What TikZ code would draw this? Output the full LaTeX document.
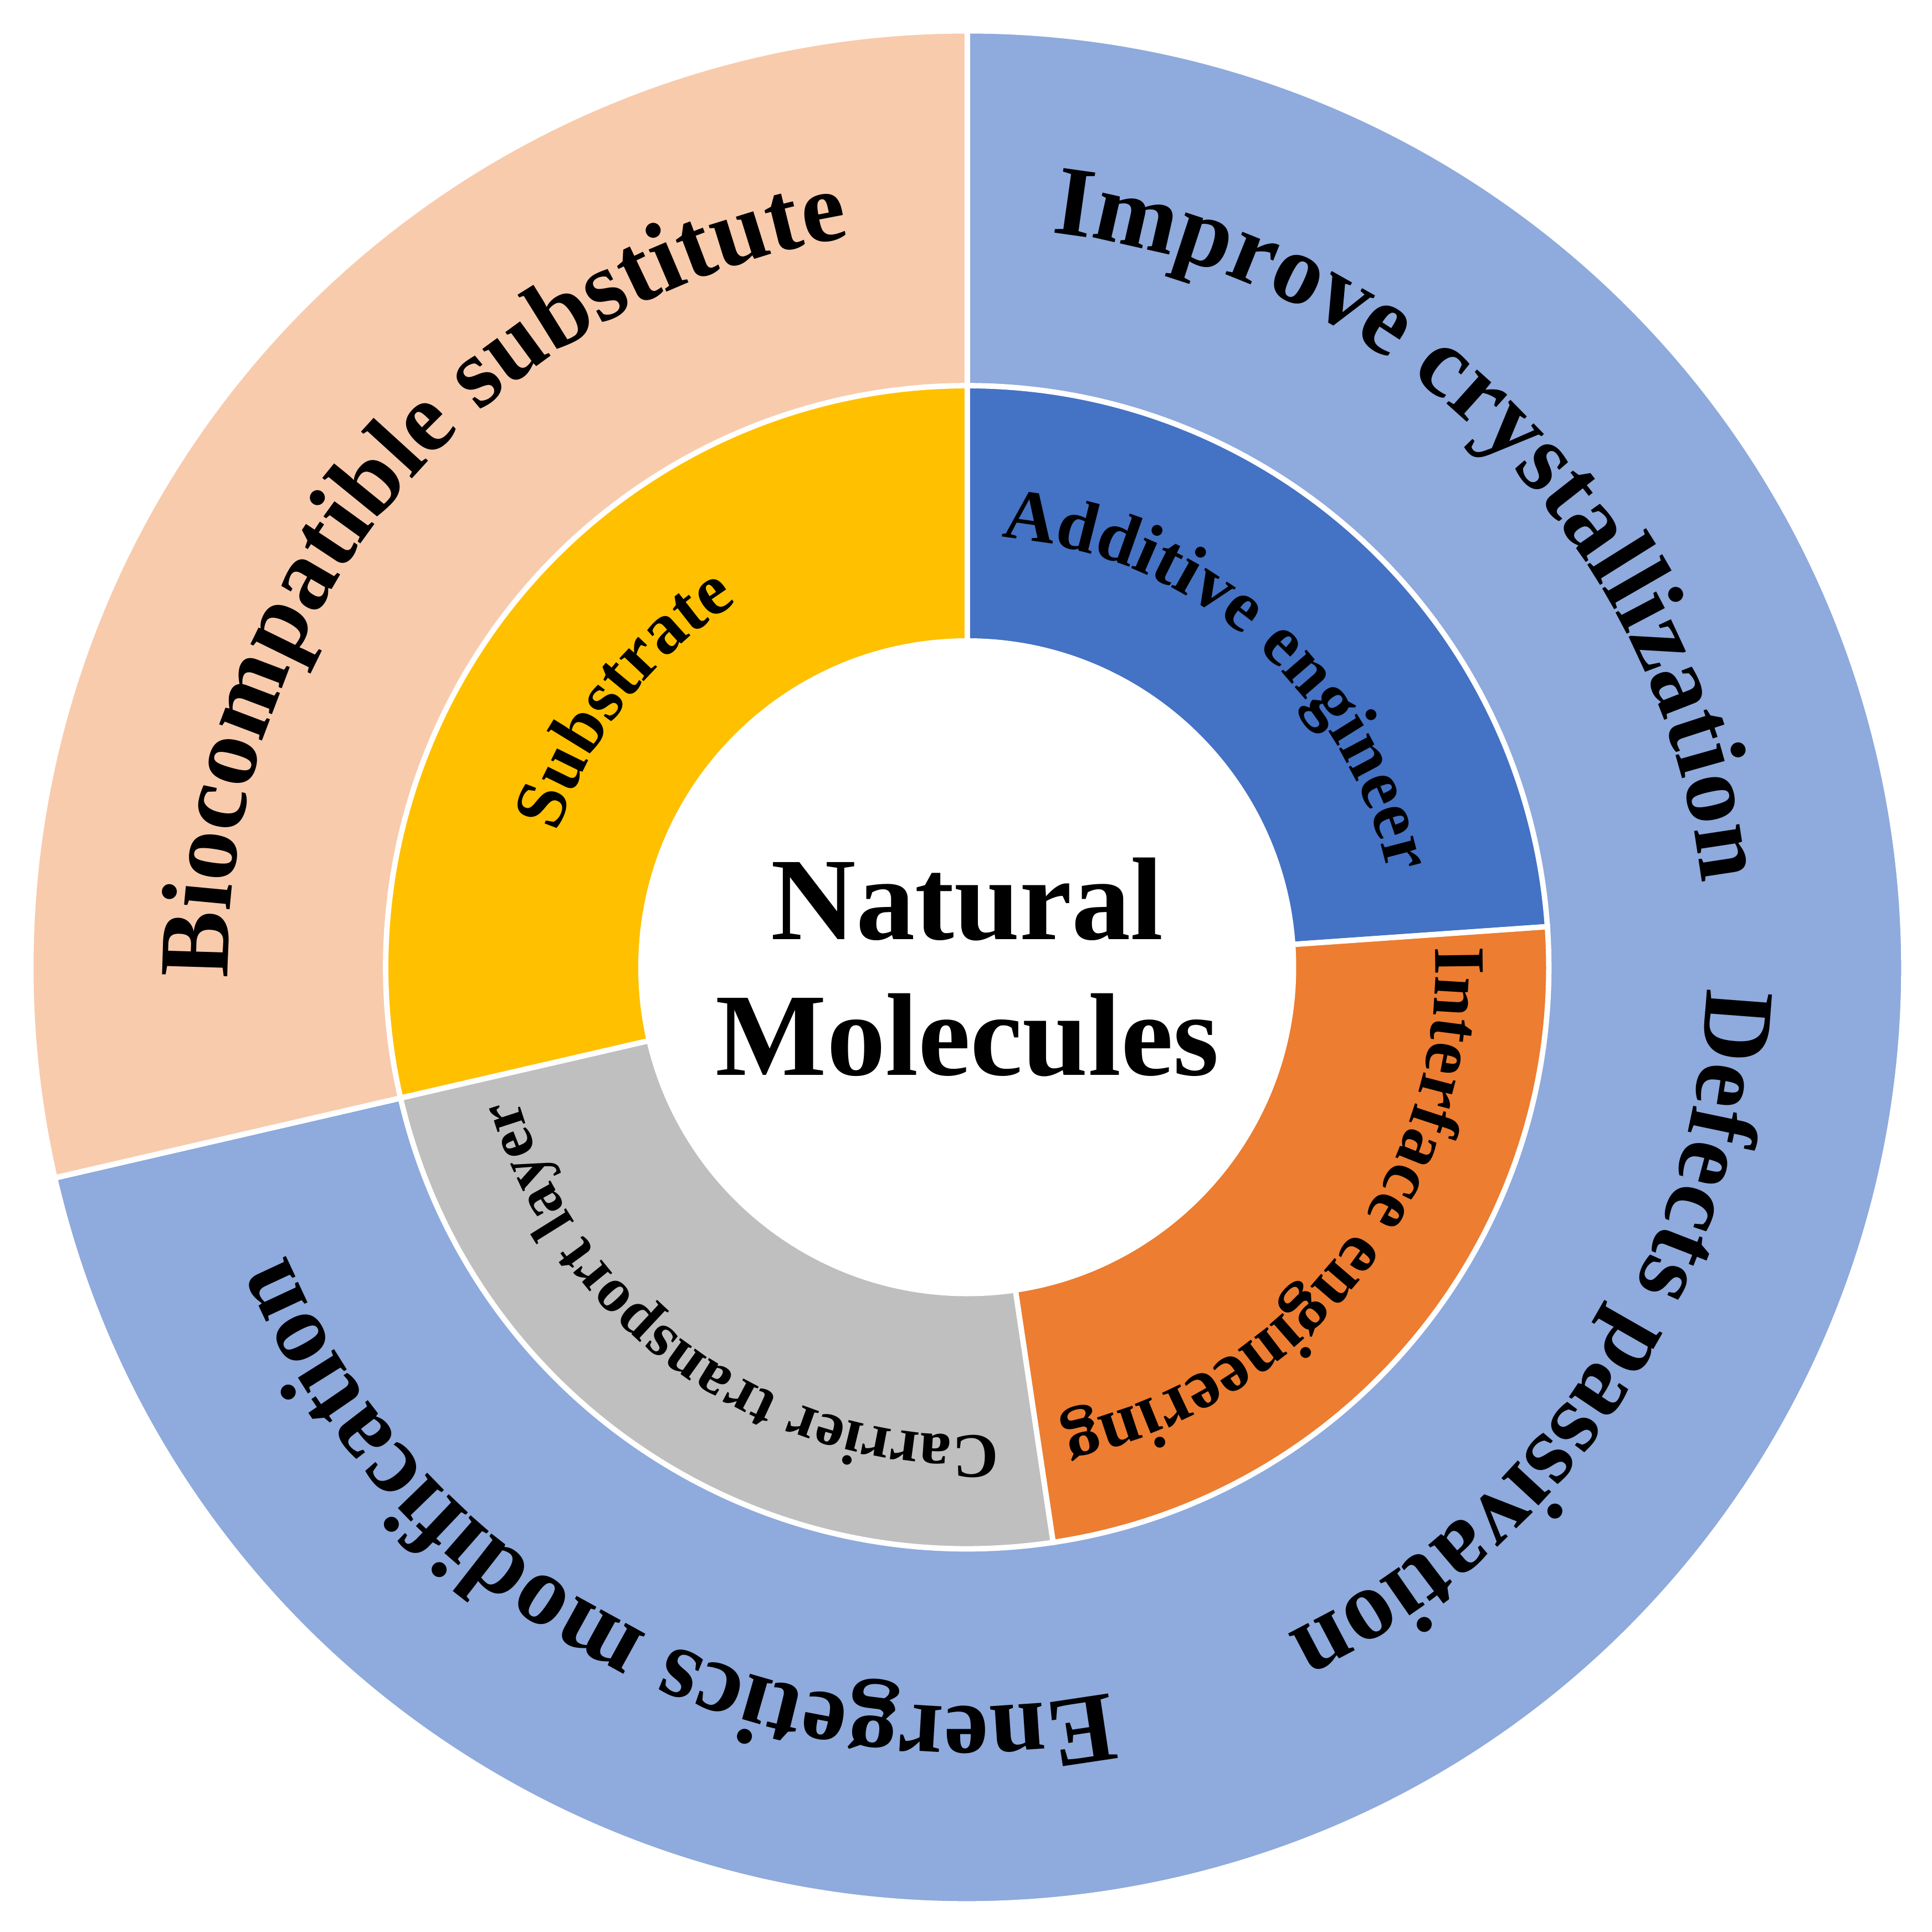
\documentclass[tikz,border=0pt]{standalone}
\usepackage{fontspec}
\setmainfont{Liberation Serif}
\usetikzlibrary{decorations.text}
\definecolor{peach}{HTML}{F8CBAD}
\definecolor{paleblue}{HTML}{8FAADC}
\definecolor{darkblue}{HTML}{4472C4}
\definecolor{orangeseg}{HTML}{ED7D31}
\definecolor{grayseg}{HTML}{BFBFBF}
\definecolor{yellowseg}{HTML}{FFC000}
\tikzset{
  sector/.style={draw=white,line width=1.2pt},
  bigtext/.style={decoration={text along path,text align=center,
    text={|\fontsize{22}{22}\bfseries|#1}},decorate},
  midtext/.style={decoration={text along path,text align=center,
    text={|\fontsize{16}{16}\bfseries|#1}},decorate},
  smalltext/.style={decoration={text along path,text align=center,
    text={|\fontsize{14}{14}\bfseries|#1}},decorate}
}
\begin{document}
\begin{tikzpicture}[x=0.009566cm,y=0.009566cm]
  \useasboundingbox (-785,-783) rectangle (783,785);
  % aussen
  \fill[sector,fill=paleblue] (0,0) -- (-167:760) arc[start angle=-167,end angle=90,radius=760] -- cycle;
  \fill[sector,fill=peach] (0,0) -- (90:760) arc[start angle=90,end angle=193,radius=760] -- cycle;
  % mitte
  \fill[sector,fill=darkblue] (0,0) -- (4:472) arc[start angle=4,end angle=90,radius=472] -- cycle;
  \fill[sector,fill=yellowseg] (0,0) -- (90:472) arc[start angle=90,end angle=193,radius=472] -- cycle;
  \fill[sector,fill=grayseg] (0,0) -- (193:472) arc[start angle=193,end angle=278.5,radius=472] -- cycle;
  \fill[sector,fill=orangeseg] (0,0) -- (-81.5:472) arc[start angle=-81.5,end angle=4,radius=472] -- cycle;
  \draw[white,line width=1.2pt] (90:472) -- (90:760) (193:472) -- (193:760);
  \fill[white] (0,0) circle (267);
  \node[font=\fontsize{26}{30}\bfseries,align=center] (nm) at (0,0) {Natural\\Molecules};
  % Beschriftung aussen
  \path[bigtext=Biocompatible substitute] (220:600) arc[start angle=220,end angle=60,radius=600];
  \path[bigtext=Improve crystallization] (125:600) arc[start angle=125,end angle=-35,radius=600];
  \path[bigtext=Defects passivation] (47:600) arc[start angle=47,end angle=-113,radius=600];
  \path[bigtext=Energetics modification] (-38:600) arc[start angle=-38,end angle=-198,radius=600];
  % Beschriftung innen
  \path[midtext=Substrate] (212:350) arc[start angle=212,end angle=72,radius=350];
  \path[midtext=Additive engineer] (119:350) arc[start angle=119,end angle=-21,radius=350];
  \path[midtext=Interface engineering] (32:380) arc[start angle=32,end angle=-108,radius=380];
  \path[smalltext=Carrier transport layer] (-55:380) arc[start angle=-55,end angle=-195,radius=380];
\end{tikzpicture}
\end{document}
